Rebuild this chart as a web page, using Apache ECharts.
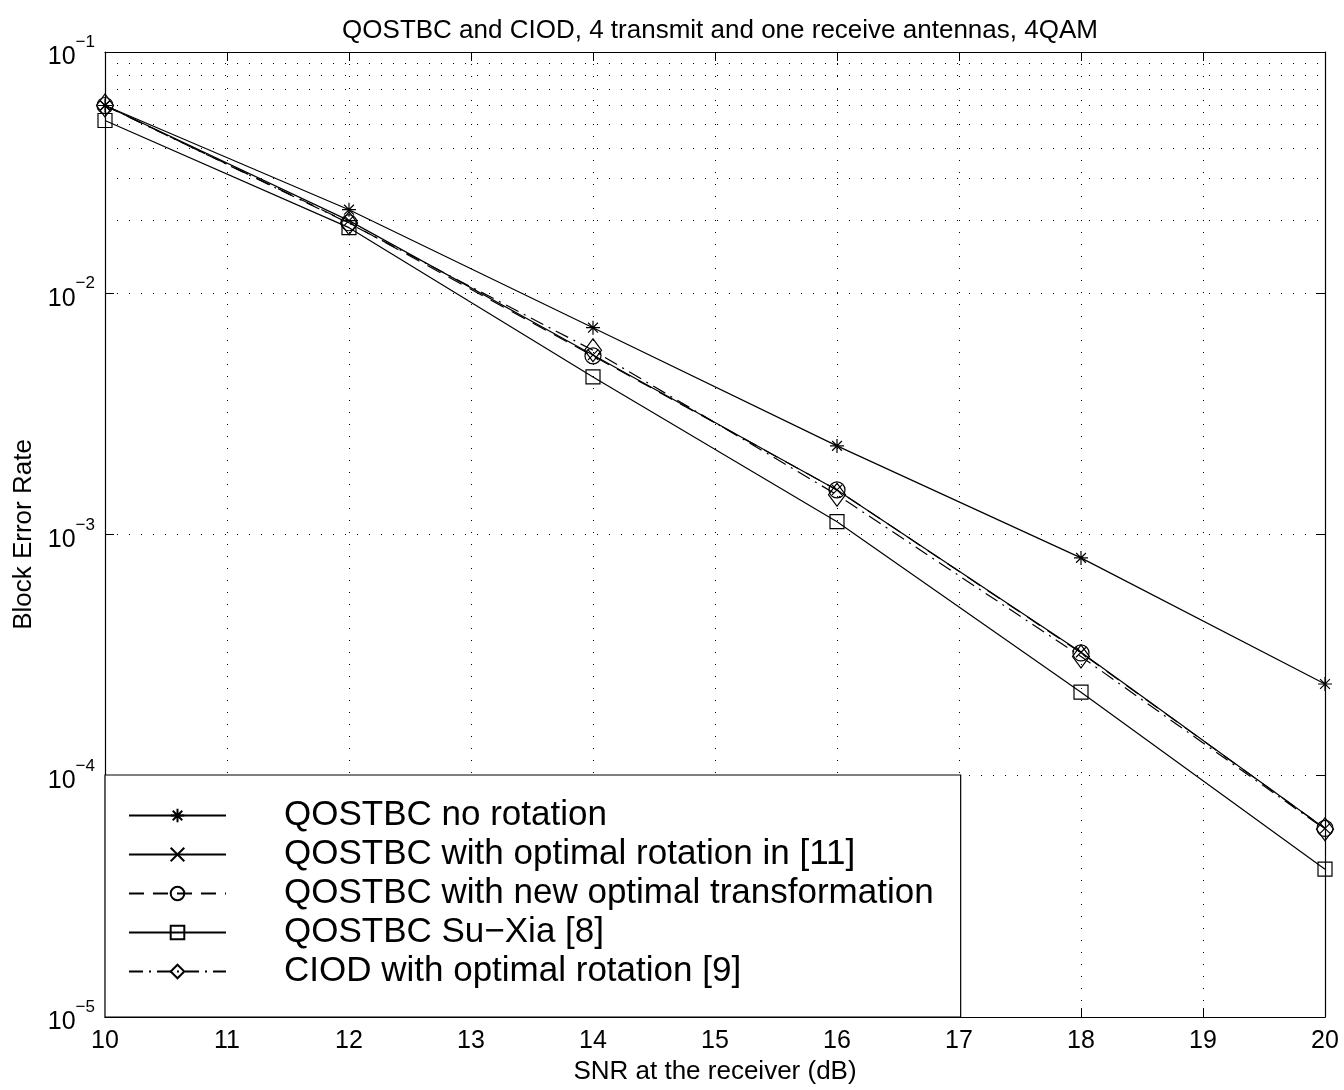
<!DOCTYPE html>
<html>
<head>
<meta charset="utf-8">
<script src="https://cdn.jsdelivr.net/npm/echarts@6/dist/echarts.min.js"></script>
<style>
  html, body { margin: 0; padding: 0; background: #fff; }
  #chart { width: 1344px; height: 1090px; }
</style>
</head>
<body>
<div id="chart"></div>
<script>
// SNR points (dB)
var snr = [10, 12, 14, 16, 18, 20];

// block error rates
var noRotation   = [0.060, 0.0222, 0.0072, 0.00233, 0.00080, 0.00024];
var optRot11     = [0.060, 0.0200, 0.00555, 0.00153, 0.000325, 0.0000605];
var newOptTrans  = [0.060, 0.0196, 0.00550, 0.00153, 0.000323, 0.0000605];
var suXia        = [0.052, 0.0187, 0.00450, 0.00113, 0.000222, 0.0000410];
var ciodOptRot   = [0.060, 0.0195, 0.00580, 0.00146, 0.000312, 0.0000600];

var names = [
  'QOSTBC no rotation',
  'QOSTBC with optimal rotation in [11]',
  'QOSTBC with new optimal transformation',
  'QOSTBC Su\u2212Xia [8]',
  'CIOD with optimal rotation [9]'
];

var yDecades = [-5, -4, -3, -2, -1];

function pairs(ys) {
  return snr.map(function (x, i) { return [x, ys[i]]; });
}

// dotted minor grid at 2..9 x 10^k
var minorGrid = [];
yDecades.slice(0, -1).forEach(function (k) {
  for (var m = 2; m <= 9; m++) minorGrid.push({ yAxis: m * Math.pow(10, k) });
});

var starPath = 'path://M0,-1L0,1M-1,0L1,0M-0.7,-0.7L0.7,0.7M-0.7,0.7L0.7,-0.7';
var crossPath = 'path://M-1,-1L1,1M-1,1L1,-1';

function mkSeries(name, ys, symbol, size, dash) {
  return {
    name: name,
    type: 'line',
    data: pairs(ys),
    symbol: symbol,
    symbolSize: size,
    showAllSymbol: true,
    lineStyle: { color: '#000', width: 1.2, type: dash || 'solid' },
    itemStyle: { color: 'none', borderColor: '#000', borderWidth: 1.2 },
    emphasis: { disabled: true },
    z: 3
  };
}

var series = [
  mkSeries(names[0], noRotation, starPath, 14, 'solid'),
  mkSeries(names[1], optRot11, crossPath, 10, 'solid'),
  mkSeries(names[2], newOptTrans, 'circle', 16, [15, 9]),
  mkSeries(names[3], suXia, 'rect', 14, 'solid'),
  mkSeries(names[4], ciodOptRot, 'diamond', [17, 23], [14, 6, 2, 6])
];
series[0].markLine = {
  silent: true,
  symbol: 'none',
  label: { show: false },
  lineStyle: { color: '#000', width: 1, type: [1, 11] },
  data: minorGrid,
  z: 1
};

var chart = echarts.init(document.getElementById('chart'));
chart.setOption({
  animation: false,
  backgroundColor: '#fff',
  textStyle: { fontFamily: 'Liberation Sans, Arial, sans-serif', color: '#000' },
  title: {
    text: 'QOSTBC and CIOD, 4 transmit and one receive antennas, 4QAM',
    left: 715,
    textAlign: 'center',
    top: 13,
    textStyle: { fontSize: 26, fontWeight: 'normal', color: '#000' }
  },
  grid: { left: 105, right: 19, top: 52, bottom: 73 },
  legend: {
    orient: 'vertical',
    left: 105,
    top: 775,
    padding: [21, 27, 26, 23],
    itemWidth: 97,
    itemHeight: 17,
    itemGap: 0,
    backgroundColor: '#fff',
    borderColor: '#000',
    borderWidth: 1.2,
    borderRadius: 0,
    selectedMode: false,
    textStyle: { fontSize: 35, color: '#000', lineHeight: 39, padding: [0, 0, 0, 53] },
    data: names
  },
  xAxis: [{
    type: 'value',
    min: 10, max: 20, interval: 1,
    name: 'SNR at the receiver (dB)',
    nameLocation: 'middle',
    nameGap: 41,
    nameTextStyle: { fontSize: 26, color: '#000' },
    axisLine: { lineStyle: { color: '#000', width: 1.2 } },
    axisTick: { inside: true, length: 9, lineStyle: { color: '#000' } },
    axisLabel: { fontSize: 25, color: '#000', margin: 12 },
    splitLine: { show: true, lineStyle: { color: '#000', width: 1, type: [1, 11] } }
  }, {
    type: 'value',
    position: 'top',
    min: 10, max: 20, interval: 1,
    axisLine: { lineStyle: { color: '#000', width: 1.2 } },
    axisTick: { inside: true, length: 9, lineStyle: { color: '#000' } },
    axisLabel: { show: false },
    splitLine: { show: false }
  }],
  yAxis: [{
    type: 'log',
    logBase: 10,
    min: 1e-5, max: 1e-1,
    name: 'Block Error Rate',
    nameLocation: 'middle',
    nameGap: 68,
    nameTextStyle: { fontSize: 26, color: '#000' },
    axisLine: { lineStyle: { color: '#000', width: 1.2 } },
    axisTick: { inside: true, length: 9, lineStyle: { color: '#000' } },
    axisLabel: {
      margin: 10,
      formatter: function (v) {
        var e = Math.round(Math.log10(v));
        return '{b|10}{s|' + (e < 0 ? '\u2212' + (-e) : e) + '}';
      },
      rich: {
        b: { fontSize: 25, color: '#000', lineHeight: 36, verticalAlign: 'bottom' },
        s: { fontSize: 17, color: '#000', lineHeight: 36, verticalAlign: 'top' }
      }
    },
    splitLine: { show: true, lineStyle: { color: '#000', width: 1, type: [1, 11] } }
  }, {
    type: 'log',
    logBase: 10,
    position: 'right',
    min: 1e-5, max: 1e-1,
    axisLine: { lineStyle: { color: '#000', width: 1.2 } },
    axisTick: { inside: true, length: 9, lineStyle: { color: '#000' } },
    axisLabel: { show: false },
    splitLine: { show: false }
  }],
  series: series
});
</script>
</body>
</html>
